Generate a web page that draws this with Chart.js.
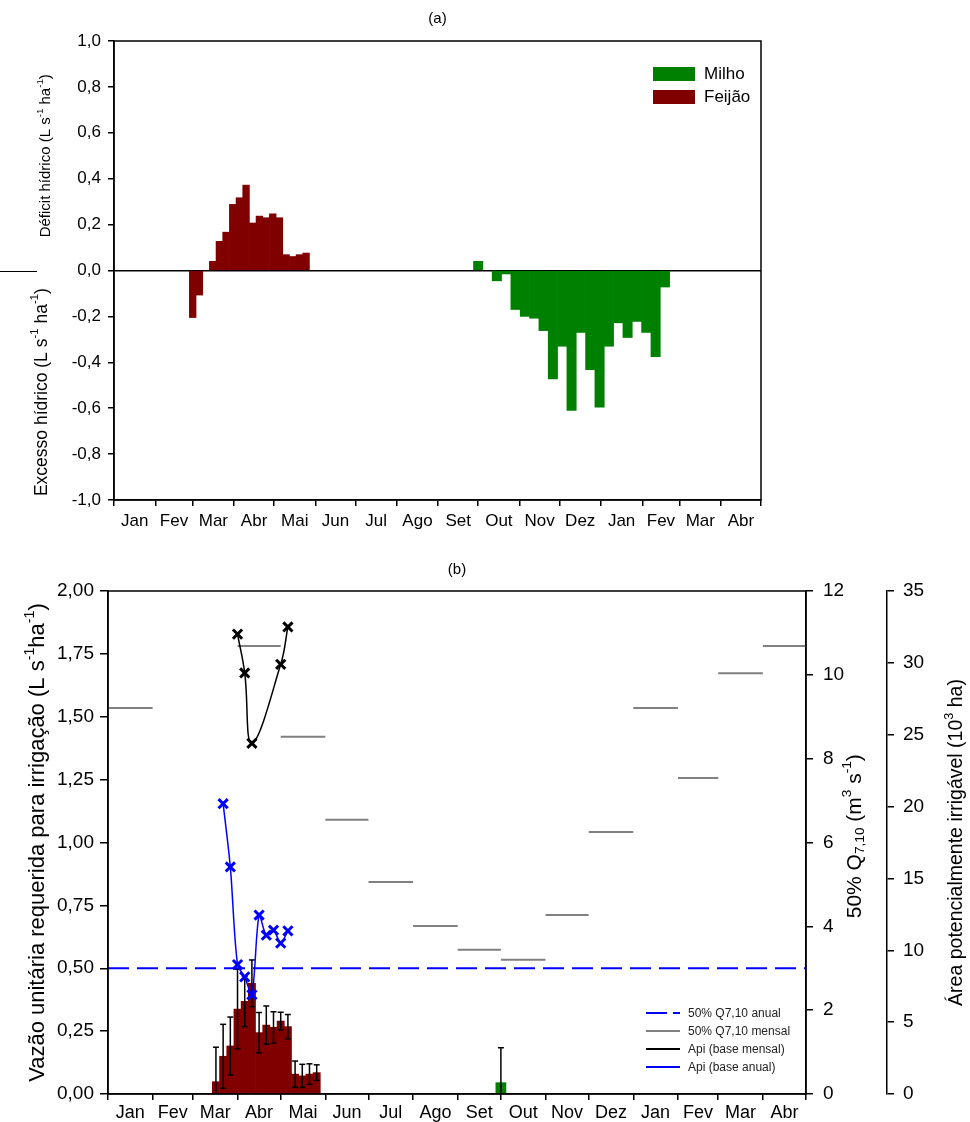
<!DOCTYPE html>
<html lang="pt">
<head>
<meta charset="UTF-8">
<title>Déficit hídrico e vazão requerida para irrigação</title>
<script src="https://cdn.jsdelivr.net/npm/chart.js@4"></script>
<style>
  body { margin: 0; background: #fff; font-family: "Liberation Sans", Arial, sans-serif; }
  .painel { position: relative; width: 970px; }
  .painel canvas { display: block; }
  .legA { position: absolute; display: flex; align-items: center; height: 14px; font-size: 17px; color: #000; }
  .legA span { display: inline-block; width: 42px; height: 14px; margin-right: 9px; }
  .legB { position: absolute; display: flex; align-items: center; height: 12px; font-size: 12px; color: #222; white-space: nowrap; }
  .legB svg { margin-right: 8px; }
</style>
</head>
<body>
<div class="painel" style="height:540px">
  <canvas id="graficoA" width="970" height="540"></canvas>
  <div class="legA" style="left:653px;top:67px"><span style="background:#008000"></span>Milho</div>
  <div class="legA" style="left:653px;top:90px"><span style="background:#800000"></span>Feijão</div>
</div>
<div class="painel" style="height:582px">
  <canvas id="graficoB" width="970" height="582"></canvas>
  <div class="legB" style="left:646px;top:467px"><svg width="34" height="4"><line x1="0" y1="2" x2="34" y2="2" stroke="#0000ff" stroke-width="2" stroke-dasharray="21 6"/></svg>50% Q7,10 anual</div>
  <div class="legB" style="left:646px;top:485px"><svg width="34" height="4"><line x1="0" y1="2" x2="34" y2="2" stroke="#808080" stroke-width="2"/></svg>50% Q7,10 mensal</div>
  <div class="legB" style="left:646px;top:503px"><svg width="34" height="4"><line x1="0" y1="2" x2="34" y2="2" stroke="#000" stroke-width="2"/></svg>Api (base mensal)</div>
  <div class="legB" style="left:646px;top:521px"><svg width="34" height="4"><line x1="0" y1="2" x2="34" y2="2" stroke="#0000ff" stroke-width="2"/></svg>Api (base anual)</div>
</div>

<script>
// eixo x: meses (jan do 1º ano até abr do ano seguinte), em dias
const mesesRotulos = ['Jan', 'Fev', 'Mar', 'Abr', 'Mai', 'Jun', 'Jul', 'Ago', 'Set', 'Out', 'Nov', 'Dez', 'Jan', 'Fev', 'Mar', 'Abr'];
const diasMes = [31, 28, 31, 30, 31, 30, 31, 31, 30, 31, 30, 31, 31, 28, 31, 30];

// (a) déficit (+) / excesso (-) hídrico, L s-1 ha-1
const diasFeijaoA = [59, 64, 69, 74, 79, 84, 89, 94, 99, 104, 109, 114, 119, 124, 129, 134, 139, 144];
const feijaoA = [-0.205, -0.107, 0, 0.04, 0.127, 0.167, 0.288, 0.317, 0.372, 0.207, 0.237, 0.23, 0.247, 0.23, 0.069, 0.061, 0.069, 0.076];
const diasMilhoA = [273, 280, 287, 294, 301, 308, 315, 322, 329, 336, 343, 350, 357, 364, 371, 378, 385, 392, 399, 406, 413];
const milhoA = [0.04, 0, -0.045, -0.015, -0.17, -0.2, -0.208, -0.262, -0.472, -0.33, -0.61, -0.27, -0.432, -0.595, -0.33, -0.228, -0.292, -0.222, -0.27, -0.375, -0.072];

// (b) vazão unitária requerida (L s-1 ha-1) e desvio
const diasFeijaoB = [75, 80, 85, 90, 95, 100, 105, 110, 115, 120, 125, 130, 135, 140, 145];
const feijaoB = [0.049, 0.15, 0.191, 0.338, 0.368, 0.44, 0.244, 0.274, 0.265, 0.29, 0.268, 0.079, 0.072, 0.079, 0.085];
const desvioFeijaoB = [0.137, 0.127, 0.115, 0.158, 0.1, 0.093, 0.08, 0.076, 0.062, 0.035, 0.048, 0.052, 0.046, 0.041, 0.031];
const diasMilhoB = [273, 280, 287, 294, 301, 308, 315, 322, 329, 336, 343, 350, 357, 364, 371, 378, 385, 392, 399, 406, 413];
const milhoB = [0.045, 0, 0, 0, 0, 0, 0, 0, 0, 0, 0, 0, 0, 0, 0, 0, 0, 0, 0, 0, 0];
const desvioMilhoB = [0.139, 0, 0, 0, 0, 0, 0, 0, 0, 0, 0, 0, 0, 0, 0, 0, 0, 0, 0, 0, 0];

// 50% Q7,10 (m3 s-1): anual e por mês (null = fora da escala)
const q710Anual = 3.0;
const q710Mensal = [9.21, null, null, 10.69, 8.52, 6.54, 5.06, 4.01, 3.44, 3.2, 4.27, 6.25, 9.21, 7.54, 10.04, 10.69];

// área potencialmente irrigável (10^3 ha)
const diasApiMensal = [90, 95, 100, 120, 125];
const apiMensal = [32.0, 29.3, 24.4, 29.9, 32.5];
const diasApiAnual = [80, 85, 90, 95, 100, 105, 110, 115, 120, 125];
const apiAnual = [20.2, 15.8, 9.0, 8.15, 6.9, 12.45, 11.05, 11.4, 10.5, 11.35];

const VINHO = '#800000';
const VERDE = '#008000';
const AZUL = '#0000ff';
const CINZA = '#808080';
const FONTE = '"Liberation Sans", Arial, Helvetica, sans-serif';

Chart.defaults.font.family = FONTE;
Chart.defaults.color = '#000';

const inicioMes = [0];
diasMes.forEach(d => inicioMes.push(inicioMes[inicioMes.length - 1] + d));
const fimEixo = inicioMes[inicioMes.length - 1];
const centroMes = diasMes.map((d, i) => inicioMes[i] + d / 2);
const ticksMeses = inicioMes.concat(centroMes).sort((a, b) => a - b);
const corTickMes = c => centroMes.includes(c.tick.value) ? 'rgba(0,0,0,0)' : '#000';

function eixoMeses(tamFonte, pad, altura) {
  return {
    type: 'linear', position: 'bottom', min: 0, max: fimEixo,
    offset: false,
    afterBuildTicks: s => { s.ticks = ticksMeses.map(v => ({ value: v })); },
    afterFit: s => { s.height = altura; },
    ticks: {
      autoSkip: false, maxRotation: 0, minRotation: 0, padding: pad,
      font: { size: tamFonte },
      callback: v => { const i = centroMes.indexOf(v); return i >= 0 ? mesesRotulos[i] : ''; }
    },
    grid: { offset: false, drawOnChartArea: false, tickLength: 6, lineWidth: 1.5, color: corTickMes, tickColor: corTickMes },
    border: { color: '#000', width: 1.5 }
  };
}
const eixoOculto = { type: 'linear', display: false, min: 0, max: fimEixo, offset: false, grid: { offset: false } };

function virgula(v, casas) {
  if (Math.abs(v) < 1e-9) v = 0;
  return v.toFixed(casas).replace('.', ',');
}

// texto com ^{sobrescrito} e _{subscrito}
function textoRico(ctx, txt, tam) {
  const partes = [];
  const re = /([\^_])\{([^}]*)\}/g;
  let ult = 0, m;
  while ((m = re.exec(txt))) {
    if (m.index > ult) partes.push({ t: txt.slice(ult, m.index), k: 0 });
    partes.push({ t: m[2], k: m[1] === '^' ? 1 : -1 });
    ult = re.lastIndex;
  }
  if (ult < txt.length) partes.push({ t: txt.slice(ult), k: 0 });
  const fonte = k => (k ? tam * 0.65 : tam) + 'px ' + FONTE;
  let total = 0;
  partes.forEach(p => { ctx.font = fonte(p.k); p.w = ctx.measureText(p.t).width; total += p.w; });
  let x = -total / 2;
  ctx.textAlign = 'left';
  ctx.textBaseline = 'middle';
  ctx.fillStyle = '#000';
  partes.forEach(p => {
    ctx.font = fonte(p.k);
    const dy = p.k === 1 ? -tam * 0.38 : (p.k === -1 ? tam * 0.25 : 0);
    ctx.fillText(p.t, x, dy);
    x += p.w;
  });
}

const titulosEixos = {
  id: 'titulosEixos',
  afterDraw(chart, args, opts) {
    const ctx = chart.ctx;
    (opts.itens || []).forEach(it => {
      const s = chart.scales[it.eixo];
      const y = it.valor === undefined ? (s.top + s.bottom) / 2 : s.getPixelForValue(it.valor);
      ctx.save();
      ctx.translate(s.left + it.dx, y);
      ctx.rotate(-Math.PI / 2);
      textoRico(ctx, it.texto, it.tamanho);
      ctx.restore();
    });
    const sep = opts.separador;
    if (sep) {
      const s = chart.scales[sep.eixo];
      const y = Math.round(s.getPixelForValue(sep.valor)) + 0.5;
      ctx.save();
      ctx.strokeStyle = '#000';
      ctx.lineWidth = 1;
      ctx.beginPath();
      ctx.moveTo(s.left + sep.de, y);
      ctx.lineTo(s.left + sep.ate, y);
      ctx.stroke();
      ctx.restore();
    }
  }
};

const moldura = {
  id: 'moldura',
  afterDatasetsDraw(chart) {
    const { ctx, chartArea: a } = chart;
    ctx.save();
    ctx.strokeStyle = '#000';
    ctx.lineWidth = 1.5;
    ctx.strokeRect(a.left, a.top, a.right - a.left, a.bottom - a.top);
    ctx.restore();
  }
};

const pontos = (xs, ys) => xs.map((d, i) => ({ x: d, y: ys[i] === 0 ? null : ys[i] }));

function barrasErro(xs, ys, sd) {
  const out = [];
  xs.forEach((d, i) => {
    if (!ys[i]) return;
    out.push({ x: d, y: ys[i] - sd[i] }, { x: d, y: ys[i] + sd[i] }, { x: d, y: null });
  });
  return out;
}

const linhaMensal = [];
q710Mensal.forEach((v, i) => {
  linhaMensal.push({ x: inicioMes[i], y: v }, { x: inicioMes[i + 1], y: v }, { x: inicioMes[i + 1], y: null });
});

// cada série de barras tem seu próprio eixo x: sem agrupamento lado a lado
const barra = { borderWidth: 0, barPercentage: 1, categoryPercentage: 1, grouped: false };
const marcador = { pointStyle: 'crossRot', pointRadius: 6.5, pointBorderWidth: 3 };

// ---------- (a) ----------
new Chart(document.getElementById('graficoA'), {
  type: 'bar',
  data: {
    datasets: [
      { label: 'Milho', xAxisID: 'xm', data: pontos(diasMilhoA, milhoA), backgroundColor: VERDE, ...barra },
      { label: 'Feijão', xAxisID: 'x', data: pontos(diasFeijaoA, feijaoA), backgroundColor: VINHO, ...barra }
    ]
  },
  options: {
    responsive: false, animation: false, devicePixelRatio: 1,
    layout: { padding: { left: 0, right: 209, top: 0, bottom: 0 } },
    scales: {
      x: eixoMeses(17, 5, 40),
      xm: eixoOculto,
      y: {
        min: -1, max: 1,
        afterFit: s => { s.width = 114; },
        ticks: { stepSize: 0.2, padding: 7, font: { size: 17 }, callback: v => virgula(v, 1) },
        grid: {
          drawOnChartArea: true, tickLength: 6, lineWidth: 1.5,
          color: c => Math.abs(c.tick.value) < 1e-9 ? '#000' : 'rgba(0,0,0,0)',
          tickColor: '#000'
        },
        border: { color: '#000', width: 1.5 }
      }
    },
    plugins: {
      legend: { display: false },
      tooltip: { enabled: false },
      title: { display: true, text: '(a)', fullSize: false, color: '#000', font: { size: 15, weight: 'normal' }, padding: { top: 10, bottom: 13 } },
      titulosEixos: {
        itens: [
          { eixo: 'y', dx: 46, valor: 0.5, tamanho: 15, texto: 'Déficit hídrico (L s^{-1} ha^{-1})' },
          { eixo: 'y', dx: 42, valor: -0.53, tamanho: 17.5, texto: 'Excesso hídrico (L s^{-1} ha^{-1})' }
        ],
        separador: { eixo: 'y', valor: 0, de: 0, ate: 37 }
      }
    }
  },
  plugins: [moldura, titulosEixos]
});

// ---------- (b) ----------
new Chart(document.getElementById('graficoB'), {
  type: 'bar',
  data: {
    datasets: [
      {
        type: 'line', label: 'Api (base mensal)', yAxisID: 'y2', order: 0,
        data: diasApiMensal.map((d, i) => ({ x: d, y: apiMensal[i] })),
        borderColor: '#000', borderWidth: 1.5, tension: 0.4,
        pointBorderColor: '#000', ...marcador
      },
      {
        type: 'line', label: 'Api (base anual)', yAxisID: 'y2', order: 1,
        data: diasApiAnual.map((d, i) => ({ x: d, y: apiAnual[i] })),
        borderColor: AZUL, borderWidth: 1.5, tension: 0.3,
        pointBorderColor: AZUL, ...marcador
      },
      {
        type: 'line', label: '50% Q7,10 anual', yAxisID: 'y1', order: 2,
        data: [{ x: 0, y: q710Anual }, { x: fimEixo, y: q710Anual }],
        borderColor: AZUL, borderWidth: 2, borderDash: [21, 8], pointRadius: 0
      },
      {
        type: 'line', label: '50% Q7,10 mensal', yAxisID: 'y1', order: 3,
        data: linhaMensal, borderColor: CINZA, borderWidth: 2, pointRadius: 0, spanGaps: false
      },
      {
        type: 'line', label: 'erro feijão', yAxisID: 'y', order: 4,
        data: barrasErro(diasFeijaoB, feijaoB, desvioFeijaoB),
        borderColor: '#000', borderWidth: 1.5, spanGaps: false,
        pointStyle: 'line', pointRadius: 3, pointBorderWidth: 1.5, pointBorderColor: '#000'
      },
      {
        type: 'line', label: 'erro milho', yAxisID: 'y', order: 4,
        data: barrasErro(diasMilhoB, milhoB, desvioMilhoB),
        borderColor: '#000', borderWidth: 1.5, spanGaps: false,
        pointStyle: 'line', pointRadius: 3, pointBorderWidth: 1.5, pointBorderColor: '#000'
      },
      { label: 'Feijão', xAxisID: 'x', yAxisID: 'y', order: 6, data: pontos(diasFeijaoB, feijaoB), backgroundColor: VINHO, ...barra },
      { label: 'Milho', xAxisID: 'xm', yAxisID: 'y', order: 6, data: pontos(diasMilhoB, milhoB), backgroundColor: VERDE, ...barra }
    ]
  },
  options: {
    responsive: false, animation: false, devicePixelRatio: 1,
    layout: { padding: 0 },
    scales: {
      x: eixoMeses(18, 2, 28),
      xm: eixoOculto,
      y: {
        position: 'left', min: 0, max: 2,
        afterFit: s => { s.width = 108; },
        ticks: { stepSize: 0.25, padding: 6, font: { size: 19 }, callback: v => virgula(v, 2) },
        grid: { drawOnChartArea: false, tickLength: 8, lineWidth: 1.5, color: '#000' },
        border: { color: '#000', width: 1.5 }
      },
      y1: {
        position: 'right', min: 0, max: 12,
        afterFit: s => { s.width = 81; },
        ticks: { stepSize: 2, padding: 10, font: { size: 19 } },
        grid: { drawOnChartArea: false, tickLength: 7, lineWidth: 1.5, color: '#000' },
        border: { color: '#000', width: 1.5 }
      },
      y2: {
        position: 'right', min: 0, max: 35,
        afterFit: s => { s.width = 83; },
        ticks: { stepSize: 5, padding: 9, font: { size: 19 } },
        grid: { drawOnChartArea: false, tickLength: 7, lineWidth: 1.5, color: '#000' },
        border: { color: '#000', width: 1.5 }
      }
    },
    plugins: {
      legend: { display: false },
      tooltip: { enabled: false },
      title: { display: true, text: '(b)', fullSize: false, color: '#000', font: { size: 15, weight: 'normal' }, padding: { top: 21, bottom: 12 } },
      titulosEixos: {
        itens: [
          { eixo: 'y', dx: 38, valor: 1, tamanho: 22, texto: 'Vazão unitária requerida para irrigação (L s^{-1}ha^{-1})' },
          { eixo: 'y1', dx: 49, valor: 6.15, tamanho: 21, texto: '50% Q_{7,10} (m^{3} s^{-1})' },
          { eixo: 'y2', dx: 70, tamanho: 19.5, texto: 'Área potencialmente irrigável (10^{3} ha)' }
        ]
      }
    }
  },
  plugins: [moldura, titulosEixos]
});
</script>
</body>
</html>
